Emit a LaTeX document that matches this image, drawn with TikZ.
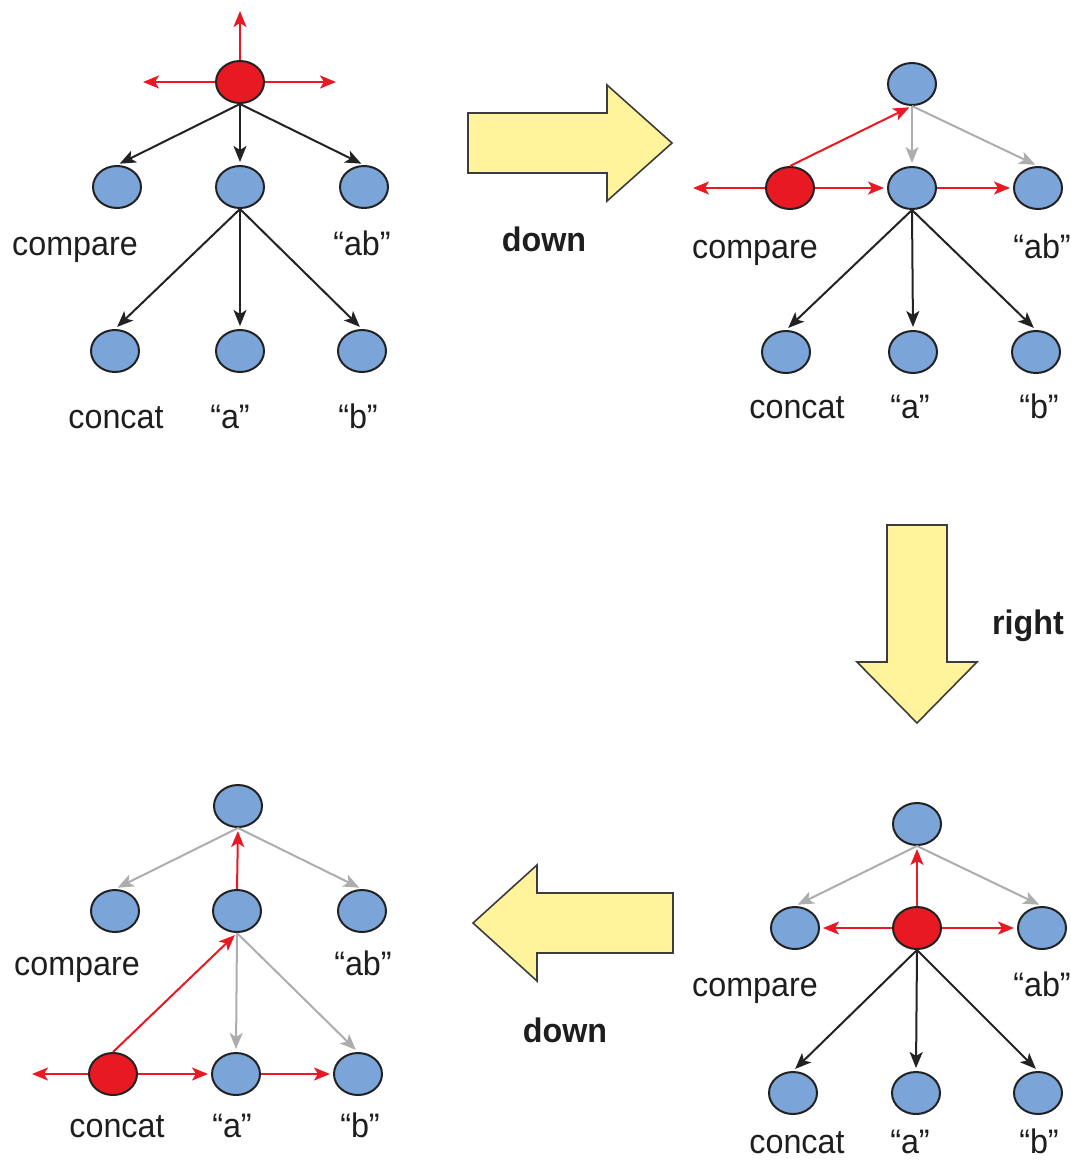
\documentclass[tikz,border=0pt]{standalone}
\usepackage{fontspec}
\setmainfont{Liberation Sans}[FakeStretch=0.95]
\usetikzlibrary{shapes.geometric,arrows.meta}
\definecolor{nodeblue}{RGB}{123,164,217}
\definecolor{nodered}{RGB}{232,25,35}
\definecolor{outline}{RGB}{34,34,34}
\definecolor{edgeblack}{RGB}{34,34,34}
\definecolor{edgegray}{RGB}{173,173,173}
\definecolor{textgray}{RGB}{30,30,30}
\definecolor{blockyellow}{RGB}{255,244,155}
\definecolor{blockedge}{RGB}{60,60,60}
\begin{document}
\begin{tikzpicture}[x=1pt,y=-1pt,
  vtx/.style={ellipse,draw=outline,line width=2pt,fill=nodeblue,minimum width=48pt,minimum height=42pt,inner sep=0pt},
  cur/.style={vtx,fill=nodered},
  lbl/.style={font=\fontsize{34}{40}\selectfont,text=textgray,anchor=base,inner sep=0pt},
  blbl/.style={font=\fontsize{34}{40}\selectfont\bfseries,text=textgray,anchor=base,inner sep=0pt},
  tipline/.style={-{Stealth[length=16pt,width=13pt,inset=4pt]},line width=2pt,shorten >=3pt},
  blk/.style={tipline,draw=edgeblack},
  gry/.style={tipline,draw=edgegray},
  ptr/.style={tipline,draw=nodered},
  block/.style={fill=blockyellow,draw=blockedge,line width=1.6pt,line join=miter}
]
\useasboundingbox (0,0) rectangle (1071,1160);

% ---------- Tree 1 (top left) ----------
\node[cur] (aR) at (240,82) {};
\node[vtx] (aL) at (117,187) {};
\node[vtx] (aM) at (240,187) {};
\node[vtx] (aX) at (364,187) {};
\node[vtx] (aC) at (115,351) {};
\node[vtx] (aA) at (240,351) {};
\node[vtx] (aB) at (362,351) {};
\coordinate (aUp) at (240,11);
\coordinate (aLeft) at (143,82);
\coordinate (aRight) at (336,82);
\draw[blk] (aR.south) -- (aL.north);
\draw[blk] (aR.south) -- (aM.north);
\draw[blk] (aR.south) -- (aX.north);
\draw[blk] (aM.south) -- (aC.north);
\draw[blk] (aM.south) -- (aA.north);
\draw[blk] (aM.south) -- (aB.north);
\draw[ptr,shorten >=0pt] (aR.north) -- (aUp);
\draw[ptr,shorten >=0pt] (aR.west) -- (aLeft);
\draw[ptr,shorten >=0pt] (aR.east) -- (aRight);
\node[lbl] (aLl) at (75,255) {compare};
\node[lbl] (aXl) at (362,255) {“ab”};
\node[lbl] (aCl) at (116,428) {concat};
\node[lbl] (aAl) at (230,428) {“a”};
\node[lbl] (aBl) at (358,428) {“b”};

% ---------- Tree 2 (top right) ----------
\node[vtx] (bR) at (912,84) {};
\node[cur] (bL) at (790,188) {};
\node[vtx] (bM) at (912,188) {};
\node[vtx] (bX) at (1038,188) {};
\node[vtx] (bC) at (786,352) {};
\node[vtx] (bA) at (913,352) {};
\node[vtx] (bB) at (1036,352) {};
\coordinate (bLeft) at (693,188);
\draw[gry] (bR.south) -- (bM.north);
\draw[gry] (bR.south) -- (bX.north);
\draw[ptr] (bL.north) -- (bR.south);
\draw[ptr,shorten >=0pt] (bL.west) -- (bLeft);
\draw[ptr] (bL.east) -- (bM.west);
\draw[ptr] (bM.east) -- (bX.west);
\draw[blk] (bM.south) -- (bC.north);
\draw[blk] (bM.south) -- (bA.north);
\draw[blk] (bM.south) -- (bB.north);
\node[lbl] (bLl) at (755,258) {compare};
\node[lbl] (bXl) at (1042,258) {“ab”};
\node[lbl] (bCl) at (797,418) {concat};
\node[lbl] (bAl) at (910,418) {“a”};
\node[lbl] (bBl) at (1039,418) {“b”};

% ---------- Tree 3 (bottom right) ----------
\node[vtx] (cR) at (917,824) {};
\node[vtx] (cL) at (795,928) {};
\node[cur] (cM) at (917,928) {};
\node[vtx] (cX) at (1042,928) {};
\node[vtx] (cC) at (793,1093) {};
\node[vtx] (cA) at (916,1093) {};
\node[vtx] (cB) at (1038,1093) {};
\draw[gry] (cR.south) -- (cL.north);
\draw[gry] (cR.south) -- (cX.north);
\draw[ptr] (cM.north) -- (cR.south);
\draw[ptr] (cM.west) -- (cL.east);
\draw[ptr] (cM.east) -- (cX.west);
\draw[blk] (cM.south) -- (cC.north);
\draw[blk] (cM.south) -- (cA.north);
\draw[blk] (cM.south) -- (cB.north);
\node[lbl] (cLl) at (755,996) {compare};
\node[lbl] (cXl) at (1042,996) {“ab”};
\node[lbl] (cCl) at (797,1153) {concat};
\node[lbl] (cAl) at (910,1153) {“a”};
\node[lbl] (cBl) at (1039,1153) {“b”};

% ---------- Tree 4 (bottom left) ----------
\node[vtx] (dR) at (238,806) {};
\node[vtx] (dL) at (115,911) {};
\node[vtx] (dM) at (237,911) {};
\node[vtx] (dX) at (362,911) {};
\node[cur] (dC) at (113,1074) {};
\node[vtx] (dA) at (236,1074) {};
\node[vtx] (dB) at (358,1074) {};
\coordinate (dLeft) at (32,1074);
\draw[gry] (dR.south) -- (dL.north);
\draw[gry] (dR.south) -- (dX.north);
\draw[gry] (dM.south) -- (dA.north);
\draw[gry] (dM.south) -- (dB.north);
\draw[ptr] (dM.north) -- (dR.south);
\draw[ptr] (dC.north) -- (dM.south);
\draw[ptr,shorten >=0pt] (dC.west) -- (dLeft);
\draw[ptr] (dC.east) -- (dA.west);
\draw[ptr] (dA.east) -- (dB.west);
\node[lbl] (dLl) at (77,975) {compare};
\node[lbl] (dXl) at (363,975) {“ab”};
\node[lbl] (dCl) at (117,1137) {concat};
\node[lbl] (dAl) at (232,1137) {“a”};
\node[lbl] (dBl) at (360,1137) {“b”};

% ---------- Block arrows ----------
\draw[block] (468,113) -- (607,113) -- (607,85) -- (672,143) -- (607,201) -- (607,173) -- (468,173) -- cycle;
\node[blbl] (step1) at (544,251) {down};

\draw[block] (887,525) -- (947,525) -- (947,662) -- (977,662) -- (917,723) -- (857,662) -- (887,662) -- cycle;
\node[blbl] (step2) at (1028,634) {right};

\draw[block] (673,893) -- (537,893) -- (537,865) -- (473,923) -- (537,981) -- (537,953) -- (673,953) -- cycle;
\node[blbl] (step3) at (565,1042) {down};
\end{tikzpicture}
\end{document}
